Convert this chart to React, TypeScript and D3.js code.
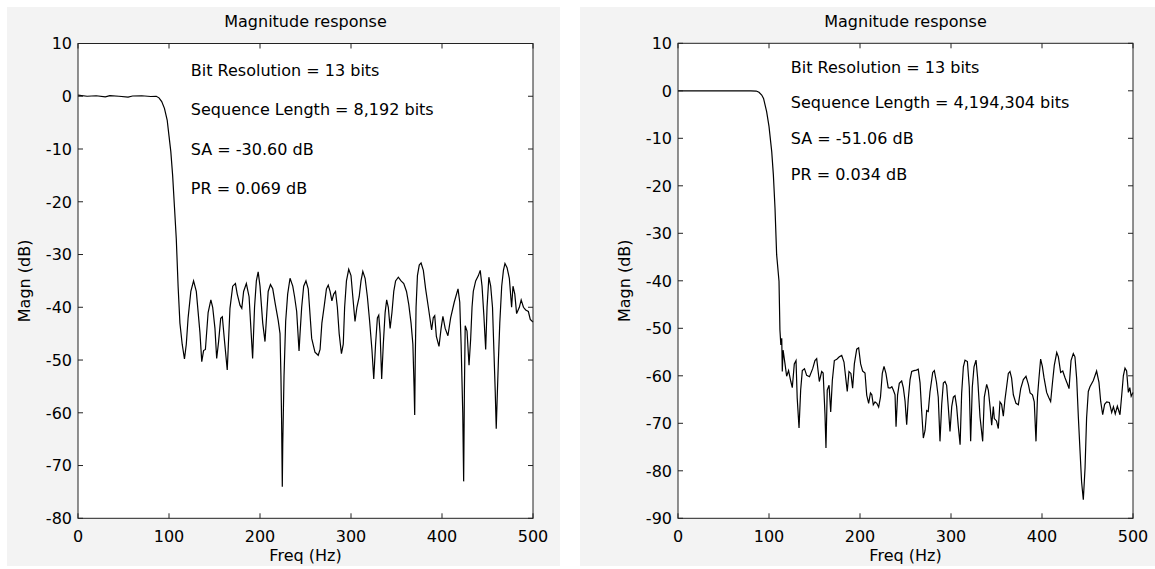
import React from "react";
import * as d3 from "d3";

// ---- Data ----
const freqA = [0, 10, 20, 30, 35, 45, 55, 60, 70, 80, 86, 89, 92, 95, 98, 100, 102, 104, 106, 108, 110, 112, 114.5, 117, 119, 121, 124, 127, 130, 134, 136, 138, 140, 143, 146, 148, 150.5, 152.4, 154.5, 156.8, 158.6, 160.8, 164, 167, 170, 173, 175, 178, 180, 182, 185, 188, 190, 191.9, 194, 196, 198, 200, 203, 205.5, 207.5, 209, 211.5, 214, 217, 220, 222, 223, 223.7, 224.5, 225, 226.4, 228.2, 230.4, 233, 236, 238, 240.3, 242.9, 244, 245.8, 248, 250.5, 253, 256.8, 260.4, 264, 266, 268, 270.7, 273, 275, 277, 279, 281, 283, 285, 287, 289.5, 291.5, 293, 295, 297.5, 300, 302, 304.4, 306.5, 309, 311, 313, 315.5, 318, 320.5, 323, 325, 327, 329, 330.5, 332, 333.7, 335.5, 337.5, 339.2, 341, 343, 345, 347, 349, 352, 355, 358, 361, 363.5, 366, 368, 369.3, 370, 370.6, 371.5, 373, 375, 377, 379.5, 382, 385, 388.6, 390.4, 392, 393.8, 396.7, 399, 401, 403.5, 406.5, 409.5, 413.5, 417.6, 419.5, 421, 422.8, 423.8, 424.6, 425.5, 427.5, 429.7, 431.5, 433, 434.4, 437, 440, 442, 444, 446, 448, 449.5, 451.5, 453.5, 455.5, 457, 458.5, 459.6, 460.5, 462, 463.5, 465.6, 467.5, 469.2, 471.5, 474, 476.5, 478, 480, 482, 485, 487, 489.5, 492, 494.9, 497, 500];
const magA = [0.2, 0.0, 0.1, -0.1, 0.1, 0.0, -0.15, 0.05, 0.1, -0.05, 0.0, -0.3, -1.0, -2.3, -4.5, -7.5, -10.5, -15, -21, -27, -36, -43, -47, -49.8, -47, -42, -37, -35, -37, -44.8, -50.3, -48.2, -48, -41, -38.6, -40, -44, -49.7, -46.5, -42.1, -41.8, -46, -51.9, -40.2, -36, -35.5, -37.5, -39.6, -40.2, -37, -35.5, -38, -44, -49.7, -40, -35, -33.3, -36, -43, -46.5, -41, -37, -35.7, -36.5, -39.6, -42.5, -45, -53, -61, -74, -66, -53, -42.7, -37.5, -34.5, -36, -38, -40.8, -48.3, -45, -40, -36, -35, -36.5, -45.9, -48.5, -49.1, -48, -43, -39.6, -36.5, -35.8, -37, -38.8, -37.5, -37, -40, -45, -48.8, -47, -40, -35, -32.8, -34, -38, -42.7, -40, -38, -35, -33.2, -34.5, -38, -42.7, -48, -53.6, -47, -42, -41.5, -45, -53.6, -47, -41, -38.6, -40, -44, -41, -37, -35, -34.3, -35, -35.5, -37, -39.5, -43, -47, -55, -60.4, -50, -40, -34, -32, -31.6, -33, -36.5, -40, -44.3, -42, -41.6, -45.5, -47.4, -44, -41.7, -44, -45.4, -42, -39, -36.5, -39, -47, -60, -73, -56, -43.5, -44.5, -51, -46, -40, -37, -35, -34, -33, -36, -41.5, -48, -40, -34.3, -36, -40, -48, -56, -63, -58, -50, -43, -36, -33, -31.7, -32.5, -34.5, -40, -36, -37.5, -41.2, -40, -38.6, -40, -40.5, -40.8, -42.3, -42.8];

const freqB = [0, 20, 40, 60, 80, 86, 89, 92, 94, 97.4, 100, 103, 104.8, 106.6, 108.4, 111, 112, 113, 114, 114.6, 115.5, 117.6, 119.4, 121.5, 124, 125.6, 127.8, 129.7, 131, 133, 134.8, 136.6, 139, 141.4, 144.5, 148, 150.5, 152.4, 155.3, 157.9, 159.5, 161.5, 162.6, 164, 166, 167.8, 169.6, 171.8, 174.5, 177.3, 179.9, 182.4, 184.6, 186, 187.9, 190, 191.9, 193.8, 196.4, 198.5, 200.7, 202.9, 205.5, 207.4, 209.5, 211.5, 213, 214.6, 216.5, 218.5, 220.5, 222.5, 224.5, 226.4, 228.5, 231, 233, 235, 236.6, 238.5, 239.6, 241.3, 243.2, 245.8, 247.6, 249.5, 251.3, 253, 255, 256.8, 259.3, 262, 264, 266, 267.8, 269.6, 271.5, 273.3, 275, 276.9, 279.9, 281.7, 284, 286, 287.9, 289.8, 291.6, 293.4, 295.2, 297, 298.9, 300.8, 302.6, 304.4, 306.2, 308, 310, 311.7, 313.6, 315.4, 318, 320.1, 321.6, 323.4, 325.3, 327.5, 329.3, 331.9, 334.8, 336.6, 339.2, 341, 342.9, 344.7, 346.5, 347.6, 350, 352, 353.8, 355.6, 357.5, 359.3, 361.2, 363, 364.8, 366.6, 368.5, 371.4, 374, 376.6, 379.5, 382.4, 385, 386.9, 389.5, 391.5, 393.4, 395, 396.7, 398.5, 400.4, 402.2, 405.1, 407.3, 409.5, 411.7, 413.5, 416.2, 418, 420.5, 422.8, 425.3, 427.5, 429.7, 431.9, 434.4, 436.2, 438.1, 440, 441.8, 443.5, 445.4, 447.3, 449, 450.9, 452.7, 456.4, 460, 462.6, 464.5, 466.7, 468.8, 471.1, 474, 476.6, 478.5, 480.5, 482.8, 485.7, 487.6, 489.4, 491.2, 493, 494.9, 496.5, 498, 500];
const magB = [0, 0, 0, 0, 0, -0.05, -0.3, -0.9, -1.6, -4.4, -7.5, -12.8, -17.7, -24.7, -34.5, -40.1, -50.3, -53.5, -52.1, -59.1, -54.6, -57.5, -60.1, -58.9, -61.2, -62.5, -57.5, -56.8, -64.7, -71, -63, -58.9, -58.5, -59.9, -60.2, -58.5, -56.8, -56.4, -61.2, -59.1, -59.4, -68, -75.2, -63, -62, -67.6, -61, -56.8, -56.5, -56, -55.7, -57.1, -60.9, -63.3, -59.1, -59.5, -62.6, -57.5, -54.4, -54.1, -57.5, -59, -59.4, -64.1, -65.8, -63.6, -64, -66.1, -65.5, -65.8, -66.6, -64.5, -59.5, -58, -59.5, -62.5, -62.6, -62.3, -63, -64, -70.7, -64, -61.6, -61.1, -62.5, -65.3, -70.3, -65, -60.8, -59.1, -58.9, -58.8, -58.6, -61.5, -67.5, -73.1, -71.5, -67.3, -67.5, -63.4, -59.3, -58.9, -61.3, -64.5, -73.8, -66, -61.5, -61.2, -62, -66.5, -71.7, -66.5, -64.5, -64.2, -66.5, -70.6, -74.5, -63.7, -58.1, -56.7, -57, -62.4, -73.8, -62.4, -58.1, -56.7, -60.5, -68.7, -73.8, -64.5, -61.8, -63, -66.5, -70.4, -66.5, -69, -69.5, -71.1, -65.5, -66, -68.5, -65, -62.2, -59.5, -59.1, -60.5, -64, -65.8, -66.1, -62.7, -60.8, -60.1, -61.8, -63.6, -64, -65.5, -73.8, -64.5, -60.4, -56.5, -58, -60.4, -63.5, -64.5, -65.4, -61.1, -57.8, -55.1, -56, -59.3, -59, -60.4, -61.5, -62.7, -56.8, -55.3, -56, -60.6, -68.9, -75.9, -82.3, -86.1, -79.4, -68.9, -63.3, -62.3, -61, -59, -61.4, -65.4, -68.2, -66, -65.5, -65.6, -67.7, -66.5, -68, -66.4, -68.2, -64.1, -60, -58.4, -59, -63.5, -62.5, -64.3, -63.5];

const xTicks = [0, 100, 200, 300, 400, 500];
const yTicksA = [10, 0, -10, -20, -30, -40, -50, -60, -70, -80];
const yTicksB = [10, 0, -10, -20, -30, -40, -50, -60, -70, -80, -90];

const notesA = ["Bit Resolution = 13 bits", "Sequence Length = 8,192 bits", "SA = -30.60 dB", "PR = 0.069 dB"];
const notesB = ["Bit Resolution = 13 bits", "Sequence Length = 4,194,304 bits", "SA = -51.06 dB", "PR = 0.034 dB"];
const noteLevels = [5, -2.5, -10, -17.5];
const noteFreq = 124;

const titleText = "Magnitude response";
const xLabel = "Freq (Hz)";
const yLabel = "Magn (dB)";

const FONT = "'DejaVu Sans', Arial, sans-serif";

type PanelProps = {
  bgX: number; bgW: number;
  left: number; right: number; top: number; bottom: number;
  yDomain: [number, number];
  yTicks: number[];
  freq: number[]; mag: number[];
  notes: string[];
  yLabelX: number;
};

function Panel(p: PanelProps) {
  const x = d3.scaleLinear().domain([0, 500]).range([p.left, p.right]);
  const y = d3.scaleLinear().domain(p.yDomain).range([p.bottom, p.top]);
  const pts: [number, number][] = p.freq.map((f, i) => [f, p.mag[i]]);
  const line = d3.line<[number, number]>().x(d => x(d[0])).y(d => y(d[1]));
  const tl = 5;
  const cx = (p.left + p.right) / 2;
  const cy = (p.top + p.bottom) / 2;
  return (
    <g fontFamily={FONT} fontSize={16} fill="#000">
      <rect x={p.bgX} y={7} width={p.bgW} height={559} fill="#f3f3f3" />
      <rect x={p.left} y={p.top} width={p.right - p.left} height={p.bottom - p.top} fill="#fff" />
      <path d={line(pts) || ""} fill="none" stroke="#000" strokeWidth={1.2} strokeLinejoin="miter" />
      <rect x={p.left} y={p.top} width={p.right - p.left} height={p.bottom - p.top} fill="none" stroke="#222" strokeWidth={1} />
      {xTicks.map(t => (
        <g key={"x" + t}>
          <line x1={x(t)} x2={x(t)} y1={p.bottom} y2={p.bottom - tl} stroke="#222" />
          <line x1={x(t)} x2={x(t)} y1={p.top} y2={p.top + tl} stroke="#222" />
          <text x={x(t)} y={542} textAnchor="middle">{t}</text>
        </g>
      ))}
      {p.yTicks.map(t => (
        <g key={"y" + t}>
          <line x1={p.left} x2={p.left + tl} y1={y(t)} y2={y(t)} stroke="#222" />
          <line x1={p.right} x2={p.right - tl} y1={y(t)} y2={y(t)} stroke="#222" />
          <text x={p.left - 6} y={y(t)} dy="0.36em" textAnchor="end">{t}</text>
        </g>
      ))}
      {p.notes.map((n, i) => (
        <text key={"n" + i} x={x(noteFreq)} y={y(noteLevels[i])} dy="0.36em">{n}</text>
      ))}
      <text x={cx} y={27} textAnchor="middle">{titleText}</text>
      <text x={cx} y={561} textAnchor="middle">{xLabel}</text>
      <text transform={`translate(${p.yLabelX},${cy}) rotate(-90)`} textAnchor="middle" dy="0.36em">{yLabel}</text>
    </g>
  );
}

export default function App() {
  return (
    <div>
      <style>{`body{margin:0;background:#fff}`}</style>
      <svg width={1155} height={569} style={{ display: "block" }}>
        <rect x={0} y={0} width={1155} height={569} fill="#fff" />
        <Panel bgX={7} bgW={553} left={78} right={533} top={43.5} bottom={518.3}
          yDomain={[-80, 10]} yTicks={yTicksA} freq={freqA} mag={magA} notes={notesA} yLabelX={24} />
        <Panel bgX={580} bgW={575} left={678} right={1133} top={43.3} bottom={518.3}
          yDomain={[-90, 10]} yTicks={yTicksB} freq={freqB} mag={magB} notes={notesB} yLabelX={624} />
      </svg>
    </div>
  );
}
